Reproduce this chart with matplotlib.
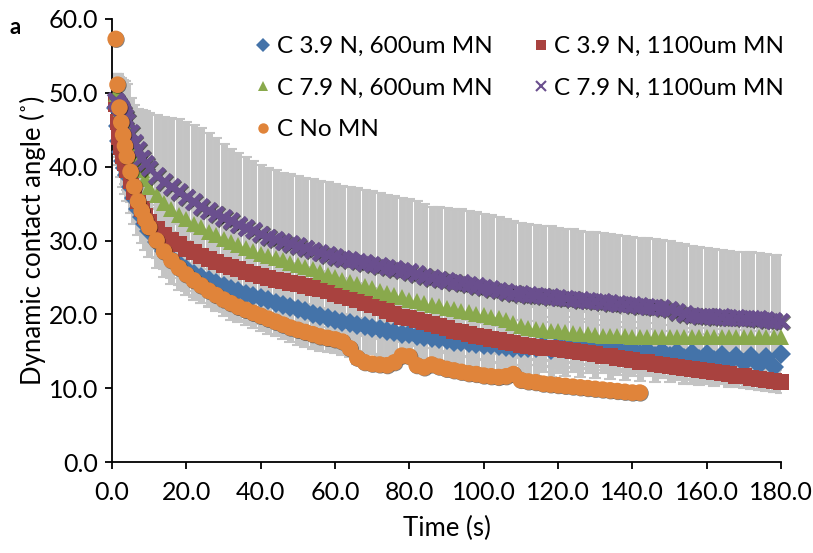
import numpy as np
import matplotlib
matplotlib.use("Agg")
import matplotlib.pyplot as plt
import matplotlib.patheffects as pe

plt.rcParams['font.family'] = ['Lato', 'DejaVu Sans']

# ---- sampling times (s) ----
time_early = [1, 1.5, 2, 2.5, 3, 3.5, 4, 5, 6, 7, 8, 9]
time_late = list(range(10, 181, 2))
time_s = np.array(time_early + time_late, dtype=float)

labels = ["C 3.9 N, 600um MN", "C 3.9 N, 1100um MN", "C 7.9 N, 600um MN",
          "C 7.9 N, 1100um MN", "C No MN"]

# ---- series values (degrees) ----
blue_3_9N_600 = [48.0, 45.5, 43.5, 42.0, 40.8, 39.8, 38.9, 37.2, 35.7, 34.3, 33.2, 32.2,
    31.3, 29.8, 28.6, 27.6, 26.8, 26.1, 25.5, 25.0, 24.6, 24.2,
    23.8, 23.4, 23.1, 22.8, 22.5, 22.2, 21.9, 21.6, 21.3, 21.0,
    20.7, 20.4, 20.1, 19.8, 19.5, 19.2, 19.0, 18.8, 18.6, 18.4,
    18.2, 18.0, 17.8, 17.6, 17.4, 17.3, 17.1, 16.9, 16.8, 16.6,
    16.5, 16.3, 16.2, 16.1, 16.0, 15.9, 15.8, 15.7, 15.6, 15.5,
    15.5, 15.4, 15.4, 15.9, 15.2, 15.8, 15.3, 15.9, 15.2, 15.7,
    15.0, 15.6, 14.8, 15.4, 14.7, 15.3, 14.6, 15.2, 14.4, 15.0,
    14.3, 14.9, 14.1, 14.7, 13.9, 14.6, 13.8, 14.5, 13.6, 14.4,
    13.4, 14.3, 13.2, 14.2, 12.9, 14.6]

red_3_9N_1100 = [48.5, 46.0, 44.0, 42.6, 41.5, 40.5, 39.6, 38.0, 36.6, 35.3, 34.2, 33.3,
    32.5, 31.6, 30.8, 30.1, 29.5, 28.9, 28.4, 27.9, 27.5, 27.1,
    26.7, 26.4, 26.1, 25.8, 25.5, 25.2, 24.9, 24.7, 24.5, 24.3,
    24.1, 23.9, 23.6, 23.4, 23.1, 22.8, 22.5, 22.2, 21.9, 21.6,
    21.2, 20.8, 20.4, 20.0, 19.7, 19.5, 19.2, 18.9, 18.7, 18.4,
    18.1, 17.8, 17.6, 17.3, 17.1, 16.9, 16.7, 16.5, 16.3, 16.1,
    15.9, 15.7, 15.6, 15.5, 15.4, 15.3, 15.2, 15.0, 14.9, 14.7,
    14.6, 14.4, 14.3, 14.1, 13.9, 13.8, 13.6, 13.5, 13.3, 13.2,
    13.0, 12.9, 12.7, 12.6, 12.5, 12.3, 12.2, 12.0, 11.9, 11.7,
    11.6, 11.4, 11.3, 11.1, 11.0, 10.9]

green_7_9N_600 = [49.8, 49.3, 48.6, 47.8, 47.0, 46.2, 45.4, 43.8, 42.2, 40.8, 39.5, 38.3,
    37.3, 36.1, 35.1, 34.2, 33.5, 32.9, 32.3, 31.8, 31.2, 30.7,
    30.2, 29.8, 29.4, 29.0, 28.6, 28.2, 27.9, 27.6, 27.3, 27.0,
    26.7, 26.4, 26.1, 25.7, 25.3, 25.0, 24.7, 24.4, 24.1, 23.8,
    23.5, 23.2, 22.9, 22.6, 22.3, 22.0, 21.8, 21.6, 21.3, 21.1,
    20.9, 20.7, 20.5, 20.3, 20.1, 19.9, 19.7, 19.5, 19.2, 18.8,
    18.4, 18.2, 18.0, 17.9, 17.8, 17.7, 17.6, 17.5, 17.4, 17.3,
    17.2, 17.1, 17.1, 17.0, 17.0, 16.9, 16.9, 16.9, 16.9, 16.9,
    16.9, 16.9, 16.9, 16.9, 16.9, 16.9, 16.9, 16.9, 16.9, 16.9,
    16.9, 16.9, 16.9, 16.9, 16.9, 16.9]

purple_7_9N_1100 = [49.0, 48.6, 48.2, 47.8, 47.3, 46.8, 46.2, 44.6, 43.3, 42.3, 41.2, 40.5,
    39.8, 38.8, 38.0, 37.3, 36.6, 35.9, 35.3, 34.6, 34.1, 33.6,
    33.1, 32.7, 32.2, 31.8, 31.4, 30.9, 30.5, 30.2, 29.9, 29.6,
    29.3, 29.0, 28.7, 28.4, 28.1, 27.8, 27.6, 27.4, 27.2, 27.0,
    26.8, 26.6, 26.4, 26.2, 26.0, 25.8, 25.5, 25.2, 25.0, 24.8,
    24.6, 24.4, 24.3, 24.1, 23.9, 23.7, 23.5, 23.3, 23.1, 22.9,
    22.8, 22.7, 22.6, 22.5, 22.4, 22.3, 22.2, 22.1, 22.0, 21.9,
    21.8, 21.7, 21.6, 21.5, 21.4, 21.3, 21.2, 21.1, 21.0, 20.9,
    20.7, 20.4, 20.1, 19.9, 19.8, 19.8, 19.7, 19.7, 19.6, 19.6,
    19.5, 19.5, 19.4, 19.3, 19.2, 19.1]

orange_no_mn = [57.3, 51.1, 48.0, 46.0, 44.3, 42.8, 41.4, 39.3, 37.3, 35.3, 34.0, 32.8,
    31.8, 30.0, 28.5, 27.3, 26.3, 25.4, 24.6, 23.9, 23.2, 22.6,
    22.0, 21.5, 21.0, 20.6, 20.2, 19.8, 19.4, 19.0, 18.6, 18.2,
    17.9, 17.6, 17.3, 17.0, 16.8, 16.6, 16.3, 15.4, 14.1, 13.5,
    13.3, 13.2, 13.1, 13.5, 14.4, 14.3, 13.1, 12.8, 13.2, 12.9,
    12.6, 12.4, 12.2, 12.0, 11.9, 11.7, 11.6, 11.5, 11.6, 11.9,
    11.1, 10.9, 10.8, 10.6, 10.5, 10.4, 10.3, 10.2, 10.1, 10.0,
    9.9, 9.8, 9.7, 9.6, 9.5, 9.4, 9.4]

# ---- standard deviations (degrees) ----
blue_err = [3.0, 3.2, 3.3, 3.4, 3.5, 3.5, 3.5, 3.5, 3.5, 3.5, 3.5, 3.5,
    3.5, 3.5, 3.5, 3.5, 3.5, 3.5, 3.5, 3.5, 3.5, 3.5,
    3.5, 3.5, 3.5, 3.5, 3.5, 3.5, 3.5, 3.5, 3.5, 3.5,
    3.5, 3.5, 3.5, 3.6, 3.6, 3.6, 3.6, 3.6, 3.6, 3.6,
    3.6, 3.6, 3.6, 3.6, 3.6, 3.6, 3.7, 3.7, 3.7, 3.7,
    3.7, 3.7, 3.7, 3.7, 3.7, 3.7, 3.7, 3.7, 3.7, 3.7,
    3.7, 3.7, 3.7, 3.7, 3.7, 3.7, 3.7, 3.7, 3.7, 3.7,
    3.6, 3.6, 3.6, 3.6, 3.6, 3.6, 3.6, 3.6, 3.6, 3.6,
    3.5, 3.5, 3.5, 3.5, 3.5, 3.5, 3.5, 3.5, 3.5, 3.5,
    3.4, 3.4, 3.4, 3.4, 3.4, 3.4]

red_err = [2.5, 2.6, 2.7, 2.8, 2.8, 2.8, 2.8, 2.8, 2.8, 2.8, 2.8, 2.8,
    2.8, 2.8, 2.8, 2.8, 2.8, 2.8, 2.8, 2.8, 2.8, 2.8,
    2.7, 2.7, 2.7, 2.7, 2.7, 2.6, 2.6, 2.6, 2.6, 2.6,
    2.5, 2.5, 2.5, 2.5, 2.5, 2.4, 2.4, 2.4, 2.4, 2.4,
    2.3, 2.3, 2.3, 2.3, 2.2, 2.2, 2.2, 2.2, 2.1, 2.1,
    2.1, 2.0, 2.0, 2.0, 2.0, 1.9, 1.9, 1.9, 1.9, 1.8,
    1.8, 1.8, 1.8, 1.7, 1.7, 1.7, 1.7, 1.6, 1.6, 1.6,
    1.6, 1.6, 1.5, 1.5, 1.5, 1.5, 1.5, 1.5, 1.5, 1.5,
    1.5, 1.5, 1.5, 1.5, 1.5, 1.5, 1.5, 1.5, 1.5, 1.5,
    1.5, 1.5, 1.5, 1.5, 1.5, 1.5]

green_err = [2.8, 3.2, 3.0, 3.0, 3.0, 3.0, 3.0, 3.0, 3.0, 3.0, 3.0, 3.0,
    3.0, 3.0, 3.0, 3.0, 3.0, 3.0, 3.0, 3.0, 3.0, 3.0,
    3.0, 3.0, 3.0, 3.0, 3.0, 3.0, 3.0, 3.0, 3.0, 3.0,
    3.0, 3.0, 3.0, 3.0, 3.0, 3.0, 3.0, 3.0, 3.0, 3.0,
    3.0, 3.0, 3.0, 3.0, 3.0, 3.0, 3.0, 3.0, 3.0, 3.0,
    3.0, 3.0, 3.0, 3.0, 3.0, 3.0, 3.0, 3.0, 3.0, 3.0,
    3.0, 3.0, 3.0, 3.0, 3.0, 3.0, 3.0, 3.0, 3.0, 3.0,
    3.0, 3.0, 3.0, 3.0, 3.0, 3.0, 3.0, 3.0, 3.0, 3.0,
    3.0, 3.0, 3.0, 3.0, 3.0, 3.0, 3.0, 3.0, 3.0, 3.0,
    3.0, 3.0, 3.0, 3.0, 3.0, 3.0]

purple_err = [3.5, 3.8, 4.0, 4.2, 4.5, 4.8, 5.0, 4.7, 5.0, 5.5, 6.5, 7.0,
    7.5, 8.2, 8.7, 9.3, 9.8, 10.2, 10.4, 10.6, 10.5, 10.3,
    10.0, 9.7, 9.6, 9.5, 9.4, 9.3, 9.3, 9.3, 9.3, 9.4,
    9.4, 9.5, 9.6, 9.7, 9.8, 9.8, 9.8, 9.9, 9.9, 9.9,
    9.9, 9.9, 9.8, 9.8, 9.8, 9.8, 9.8, 9.7, 9.6, 9.7,
    9.8, 9.9, 9.9, 9.9, 9.9, 9.9, 9.9, 9.9, 9.8, 9.7,
    9.6, 9.6, 9.5, 9.5, 9.5, 9.4, 9.4, 9.4, 9.3, 9.3,
    9.3, 9.3, 9.3, 9.2, 9.2, 9.2, 9.2, 9.2, 9.2, 9.2,
    9.2, 9.3, 9.4, 9.4, 9.3, 9.2, 9.1, 9.0, 9.0, 8.9,
    8.9, 8.9, 8.9, 8.9, 8.9, 8.9]

orange_err = [0.5, 1.5, 2.0, 2.0, 2.2, 2.3, 2.4, 2.5, 2.5, 2.5, 2.5, 2.5,
    2.4, 2.4, 2.4, 2.4, 2.3, 2.3, 2.3, 2.3, 2.2, 2.2,
    2.2, 2.2, 2.1, 2.1, 2.1, 2.1, 2.0, 2.0, 2.0, 2.0,
    2.0, 2.0, 2.0, 2.0, 1.9, 1.9, 1.8, 1.2, 0.8, 0.7,
    0.6, 0.6, 0.6, 0.6, 0.6, 0.6, 0.6, 0.6, 0.6, 0.6,
    0.6, 0.6, 0.6, 0.6, 0.6, 0.6, 0.6, 0.6, 0.6, 0.6,
    0.6, 0.6, 0.6, 0.6, 0.6, 0.6, 0.6, 0.6, 0.6, 0.6,
    0.6, 0.6, 0.6, 0.6, 0.6, 0.6, 0.6]

series = [
    (blue_3_9N_600, blue_err, '#4473A9', 'D', 10.5, labels[0]),
    (red_3_9N_1100, red_err, '#A9423F', 's', 11.0, labels[1]),
    (green_7_9N_600, green_err, '#89A94C', '^', 11.5, labels[2]),
    (purple_7_9N_1100, purple_err, '#6A4F8E', 'x', 10.5, labels[3]),
    (orange_no_mn, orange_err, '#E0843A', 'o', 12.0, labels[4]),
]

fig = plt.figure(figsize=(8.13, 5.53), dpi=100)
ax = fig.add_axes([112 / 813, 1 - 462 / 553, (781 - 112) / 813, (462 - 19) / 553])

for vals, err, col, mk, ms, lab in series:
    n = len(vals)
    ax.errorbar(time_s[:n], vals, yerr=err, fmt='none', ecolor='#C4C4C4',
                elinewidth=5.0, capsize=4, capthick=1.5, zorder=1)

handles = {}
for i, (vals, err, col, mk, ms, lab) in enumerate(series):
    n = len(vals)
    if mk == 'x':
        h, = ax.plot(time_s[:n], vals, linestyle='none', marker=mk, ms=ms,
                     mec=col, mew=3.5, color=col, zorder=3 + i, clip_on=False)
        h.set_path_effects([pe.SimpleLineShadow(offset=(0.6, -0.6), shadow_color='black',
                                                alpha=0.55, linewidth=3.5),
                            pe.Normal()])
    else:
        h, = ax.plot(time_s[:n], vals, linestyle='none', marker=mk, ms=ms,
                     color=col, mec=col, mew=0, zorder=3 + i, clip_on=False)
        if mk == 'o':
            h.set_path_effects([pe.SimplePatchShadow(offset=(0.5, -0.5),
                                                     shadow_rgbFace='black', alpha=0.5),
                                pe.Normal()])
    handles[lab] = h

ax.set_xlim(0, 180)
ax.set_ylim(0, 60)
ax.set_xticks(np.arange(0, 181, 20))
ax.set_yticks(np.arange(0, 61, 10))
ax.xaxis.set_major_formatter(matplotlib.ticker.FormatStrFormatter('%.1f'))
ax.yaxis.set_major_formatter(matplotlib.ticker.FormatStrFormatter('%.1f'))
for s in ['top', 'right']:
    ax.spines[s].set_visible(False)
for s in ['left', 'bottom']:
    ax.spines[s].set_linewidth(1.3)
    ax.spines[s].set_color('black')
ax.tick_params(direction='out', length=5, width=1.3, labelsize=18)
ax.tick_params(axis='x', pad=9)
ax.tick_params(axis='y', pad=5)

ax.set_xlabel('Time (s)', fontsize=18.5, labelpad=8)
ax.set_ylabel('Dynamic contact angle (˚)', fontsize=18.5, labelpad=2)

order = [labels[0], labels[2], labels[4], labels[1], labels[3]]
leg = fig.legend([handles[l] for l in order], order, ncol=2, frameon=False,
                 loc='upper left', bbox_to_anchor=(256 / 813, 1 - 36 / 553),
                 fontsize=17.5, handlelength=0.6, handletextpad=0.25,
                 columnspacing=1.7, labelspacing=0.85, borderaxespad=0,
                 borderpad=0)
for h in leg.legend_handles:
    h.set_markersize(7.5)
    h.set_path_effects([])
    if h.get_marker() == 'x':
        h.set_markeredgewidth(1.5)

fig.text(9 / 813, 1 - 27 / 553, 'a', fontsize=16, fontweight='bold', va='center')

fig.savefig('out.png', dpi=100)
